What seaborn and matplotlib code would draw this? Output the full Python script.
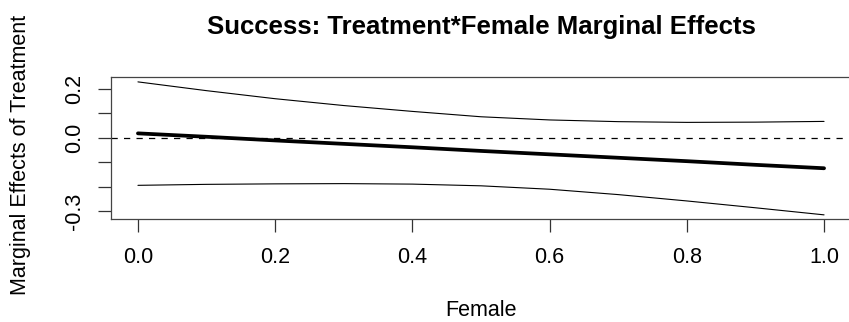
import pandas as pd
import matplotlib.pyplot as plt
import seaborn as sns

# values
female = [0.0, 0.1, 0.2, 0.3, 0.4, 0.5, 0.6, 0.7, 0.8, 0.9, 1.0]
effect = [0.018, 0.004, -0.011, -0.025, -0.039, -0.054, -0.068, -0.082, -0.096, -0.111, -0.125]
upper = [0.229, 0.193, 0.160, 0.132, 0.108, 0.086, 0.073, 0.066, 0.063, 0.064, 0.067]
lower = [-0.195, -0.191, -0.189, -0.188, -0.190, -0.197, -0.211, -0.233, -0.259, -0.287, -0.316]

yticks = [-0.3, -0.2, -0.1, 0.0, 0.1, 0.2]
ylabels = ["-0.3", "", "", "0.0", "", "0.2"]
xticks = [0.0, 0.2, 0.4, 0.6, 0.8, 1.0]

df = pd.DataFrame({"female": female, "effect": effect, "upper": upper, "lower": lower})

sns.set_style("white")
plt.rcParams["font.family"] = ["Liberation Sans", "DejaVu Sans"]
plt.rcParams["text.color"] = "black"
plt.rcParams["axes.labelcolor"] = "black"
plt.rcParams["xtick.color"] = "black"
plt.rcParams["ytick.color"] = "black"

fig = plt.figure(figsize=(8.49, 3.22), dpi=100)
ax = fig.add_axes([110.5 / 849, 1 - 219 / 322, 741 / 849, 142 / 322])

sns.lineplot(data=df, x="female", y="effect", ax=ax, color="black", linewidth=2.7)
sns.lineplot(data=df, x="female", y="upper", ax=ax, color="black", linewidth=0.8)
sns.lineplot(data=df, x="female", y="lower", ax=ax, color="black", linewidth=0.8)
ax.axhline(0, color="black", linewidth=0.9, linestyle=(0, (5, 5)))

ax.set_xlim(-0.04, 1.04)
ax.set_ylim(-0.333, 0.249)
ax.set_xticks(xticks)
ax.set_xticklabels(["%.1f" % v for v in xticks], fontsize=15.5)
ax.set_yticks(yticks)
ax.set_yticklabels(ylabels, fontsize=15.5, rotation=90, va="center")
ax.tick_params(axis="both", direction="out", length=9.5, width=0.9, color="#333333",
               bottom=True, left=True)
ax.tick_params(axis="x", pad=10.5)
ax.tick_params(axis="y", pad=9)
for side in ["left", "top", "bottom", "right"]:
    ax.spines[side].set_color("#444444")
    ax.spines[side].set_linewidth(0.9)

ax.set_xlabel("Female", fontsize=15.5, va="center")
ax.xaxis.set_label_coords(0.5, (219 - 310) / 142)
ax.set_ylabel("Marginal Effects of Treatment", fontsize=15.5, va="center")
ax.yaxis.set_label_coords((20 - 110.5) / 741, (219 - 155) / 142)
ax.set_title("Success: Treatment*Female Marginal Effects", fontsize=18.5,
             fontweight="bold", y=(219 - 27) / 142, va="center", pad=0)

fig.savefig("out.png", dpi=100)
